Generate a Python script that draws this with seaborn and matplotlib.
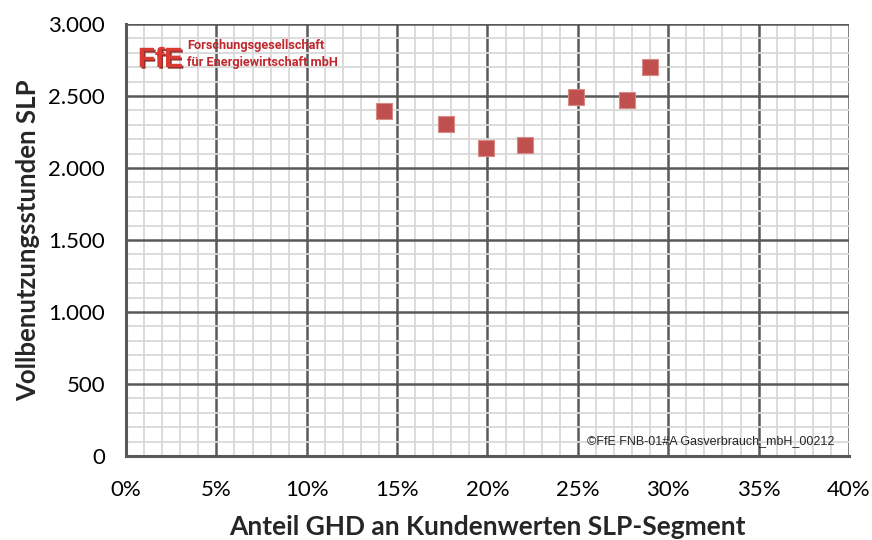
import numpy as np
import pandas as pd
import seaborn as sns
import matplotlib.pyplot as plt
import matplotlib.patheffects as pe
from matplotlib.ticker import MultipleLocator, FuncFormatter

# values
anteil_ghd = [14.3, 17.7, 19.9, 22.1, 24.9, 27.7, 29.0]   # % share
vollbenutzung = [2398, 2303, 2137, 2162, 2490, 2470, 2701]  # hours

x_ticks = [0, 5, 10, 15, 20, 25, 30, 35, 40]
y_ticks = [0, 500, 1000, 1500, 2000, 2500, 3000]

df = pd.DataFrame({"anteil": anteil_ghd, "stunden": vollbenutzung})

sns.set_style("white")
plt.rcParams["font.family"] = ["Lato", "DejaVu Sans"]

fig = plt.figure(figsize=(8.72, 5.40), dpi=100)
ax = fig.add_axes([0.1445, 0.1556, 0.8291, 0.8])

sns.scatterplot(data=df, x="anteil", y="stunden", marker="s", s=130,
                color="#C0504D", edgecolor="#D88A88", linewidth=0.8,
                zorder=5, ax=ax)

ax.set_xlim(0, 40)
ax.set_ylim(0, 3000)
ax.set_xticks(x_ticks)
ax.set_yticks(y_ticks)
ax.xaxis.set_minor_locator(MultipleLocator(1))
ax.yaxis.set_minor_locator(MultipleLocator(100))
ax.xaxis.set_major_formatter(FuncFormatter(lambda v, p: f"{v:.0f}%"))
ax.yaxis.set_major_formatter(FuncFormatter(lambda v, p: f"{v:,.0f}".replace(",", ".")))

ax.grid(which="minor", color="#D9D9D9", linewidth=1.3, zorder=0)
ax.grid(which="major", color="#595959", linewidth=1.8, zorder=1)
ax.set_axisbelow(True)

for side in ["top", "right"]:
    ax.spines[side].set_visible(False)
for side in ["left", "bottom"]:
    ax.spines[side].set_color("#595959")
    ax.spines[side].set_linewidth(2.2)
    ax.spines[side].set_zorder(3)

ax.tick_params(which="major", direction="out", length=6, width=2.2,
               color="#595959", labelsize=16, labelcolor="black")
ax.tick_params(axis="x", pad=11)
ax.tick_params(axis="y", pad=9)
ax.tick_params(which="minor", length=0)

ax.set_xlabel("Anteil GHD an Kundenwerten SLP-Segment", fontsize=19,
              fontweight="bold", labelpad=11)
ax.set_ylabel("Vollbenutzungsstunden SLP", fontsize=18.5,
              fontweight="bold", labelpad=6)

# FfE logo
fig.text(138 / 872, 1 - 67 / 540, "FfE", fontsize=20, fontweight="bold",
         color="#DA3A34", family=["Liberation Sans", "DejaVu Sans"],
         va="baseline", ha="left", zorder=6,
         path_effects=[pe.withSimplePatchShadow(offset=(1.2, -1.2),
                                                shadow_rgbFace="#8E1C18", alpha=0.9),
                       pe.Normal()])

fig.text(187 / 872, 1 - 39 / 540, "Forschungsgesellschaft\nfür Energiewirtschaft mbH",
         fontsize=9.2, color="#C0282D", family=["Roboto", "DejaVu Sans"],
         fontweight="bold", va="top", ha="left", linespacing=1.4, zorder=6)

ax.text(0.98, 0.035, "©FfE FNB-01#A Gasverbrauch_mbH_00212",
        transform=ax.transAxes, fontsize=9, family=["Liberation Sans", "DejaVu Sans"],
        ha="right", va="center", zorder=6)

plt.savefig("out.png", dpi=100)
